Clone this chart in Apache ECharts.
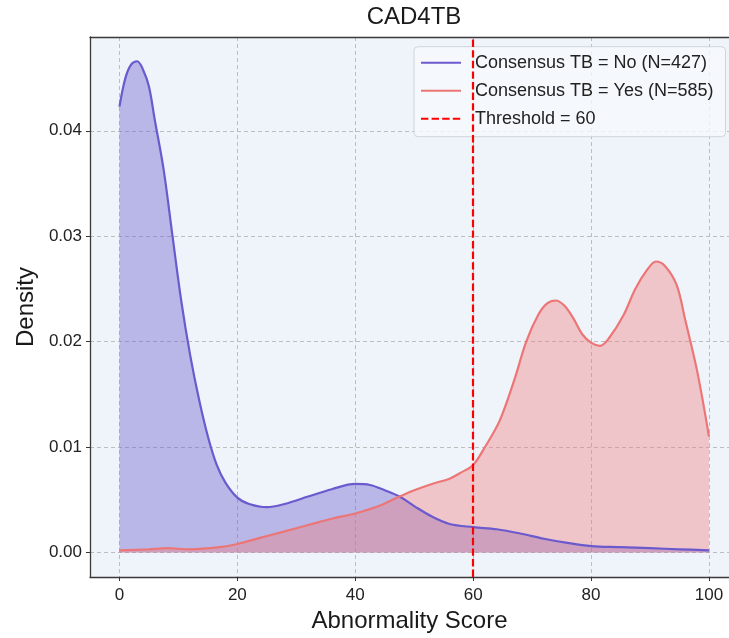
<!DOCTYPE html>
<html>
<head>
<meta charset="utf-8">
<script src="https://cdn.jsdelivr.net/npm/echarts@6/dist/echarts.min.js"></script>
<style>html,body{margin:0;padding:0;background:#fff;}#c{width:729px;height:638px;}</style>
</head>
<body>
<div id="c"></div>
<script>
const xNo = [0, 1, 2, 3, 4, 5, 6, 7.5, 9, 10.5, 12, 13.5, 15, 16.5, 18, 20, 22, 25, 28, 32, 36, 40, 42.5, 45, 47.5, 50, 53, 56, 60, 64, 68, 72, 76, 80, 85, 90, 95, 100];
const yNo = [0.0423, 0.0450, 0.0463, 0.0466, 0.0458, 0.0442, 0.0410, 0.0363, 0.0300, 0.0238, 0.0187, 0.0145, 0.0110, 0.0083, 0.0066, 0.0052, 0.0046, 0.0043, 0.0046, 0.0053, 0.0060, 0.0065, 0.0064, 0.0059, 0.0053, 0.0044, 0.0034, 0.0027, 0.0024, 0.0022, 0.0018, 0.0013, 0.0009, 0.0006, 0.0005, 0.0004, 0.0003, 0.0002];
const xYes = [0, 5, 8, 12, 17, 20, 24, 28, 32, 36, 40, 44, 47.5, 50, 53, 56, 58, 60, 62, 64.5, 67, 69, 71, 72.5, 74, 75.5, 77, 78.5, 80, 81.5, 83, 85.5, 87.5, 89.5, 91, 92.5, 94.5, 96, 98, 100];
const yYes = [0.0002, 0.0003, 0.0004, 0.0003, 0.0005, 0.0008, 0.0014, 0.0020, 0.0026, 0.0032, 0.0037, 0.0044, 0.0053, 0.0059, 0.0065, 0.0070, 0.0076, 0.0083, 0.0100, 0.0125, 0.0164, 0.0200, 0.0225, 0.0236, 0.0239, 0.0234, 0.0222, 0.0207, 0.0199, 0.0196, 0.0203, 0.0225, 0.0250, 0.0268, 0.0276, 0.0272, 0.0254, 0.0220, 0.0172, 0.0110];
const threshold = 60;
const xTicks = [0, 20, 40, 60, 80, 100];
const yTicks = [0, 0.01, 0.02, 0.03, 0.04];
const names = ['Consensus TB = No (N=427)', 'Consensus TB = Yes (N=585)', 'Threshold = 60'];

const FONT = 'Liberation Sans, Arial, sans-serif';
const chart = echarts.init(document.getElementById('c'), null, {renderer: 'canvas'});
const pairs = (xs, ys) => xs.map((x, i) => [x, ys[i]]);
const XMIN = -5, XMAX = 103.4, YMIN = -0.00233, YMAX = 0.0489;
const spine = {show: true, onZero: false, lineStyle: {color: '#3a3a3a', width: 1.3}};

chart.setOption({
  animation: false,
  backgroundColor: '#ffffff',
  textStyle: {fontFamily: FONT},
  graphic: [{
    type: 'text', x: 414, y: 5,
    style: {text: 'CAD4TB', font: '24px ' + FONT, fill: '#1a1a1a', textAlign: 'center', textVerticalAlign: 'top'}
  }],
  grid: {
    left: 90, top: 37, right: 0, bottom: 57.3,
    show: true, backgroundColor: '#EFF4FB', borderWidth: 0
  },
  legend: {
    left: 414, top: 46.7, orient: 'vertical',
    data: names,
    itemWidth: 40, itemHeight: 14, itemGap: 10,
    padding: [7, 12, 9, 6],
    backgroundColor: 'rgba(246,249,253,0.8)',
    borderColor: '#cfd4da', borderWidth: 1, borderRadius: 4,
    itemStyle: {opacity: 0, borderWidth: 0},
    textStyle: {fontSize: 18, lineHeight: 18, color: '#222', fontFamily: FONT, padding: [0, 0, 0, 9]}
  },
  xAxis: [{
    type: 'value', min: XMIN, max: XMAX,
    name: 'Abnormality Score', nameLocation: 'middle', nameGap: 32,
    nameTextStyle: {fontSize: 24, color: '#1a1a1a', fontFamily: FONT},
    axisLine: spine,
    axisTick: {show: true, customValues: xTicks, length: 4, lineStyle: {color: '#333'}},
    axisLabel: {customValues: xTicks, fontSize: 17, color: '#222', margin: 10, fontFamily: FONT},
    splitLine: {show: true, lineStyle: {type: [4, 3], color: '#bdbdbd', width: 1}}
  }, {
    type: 'value', min: XMIN, max: XMAX, position: 'top',
    axisLine: spine, axisTick: {show: false}, axisLabel: {show: false}, splitLine: {show: false}
  }],
  yAxis: {
    type: 'value', min: YMIN, max: YMAX,
    name: 'Density', nameLocation: 'middle', nameGap: 52,
    nameTextStyle: {fontSize: 24, color: '#1a1a1a', fontFamily: FONT},
    axisLine: spine,
    axisTick: {show: true, customValues: yTicks, length: 4, lineStyle: {color: '#333'}},
    axisLabel: {customValues: yTicks, fontSize: 17, color: '#222', margin: 8, fontFamily: FONT,
      formatter: v => v.toFixed(2)},
    splitLine: {show: true, lineStyle: {type: [4, 3], color: '#bdbdbd', width: 1}}
  },
  series: [
    {
      name: names[0], type: 'line', data: pairs(xNo, yNo), smooth: 0.35, symbol: 'none',
      color: '#6A5ACD',
      lineStyle: {color: '#6A5ACD', width: 2.2},
      areaStyle: {color: '#6A5ACD', opacity: 0.4}
    },
    {
      name: names[1], type: 'line', data: pairs(xYes, yYes), smooth: 0.35, symbol: 'none',
      color: '#F08080',
      lineStyle: {color: '#EC7676', width: 2.2},
      areaStyle: {color: '#F08080', opacity: 0.4}
    },
    {
      name: names[2], type: 'line', data: [], symbol: 'none',
      color: '#FF0000',
      lineStyle: {color: '#FF0000', width: 2.2, type: [7.4, 3.2]},
      markLine: {
        silent: true, symbol: 'none', label: {show: false},
        lineStyle: {color: '#FF0000', width: 2.2, type: [7.4, 3.2]},
        data: [{xAxis: threshold}]
      }
    }
  ]
});
</script>
</body>
</html>
